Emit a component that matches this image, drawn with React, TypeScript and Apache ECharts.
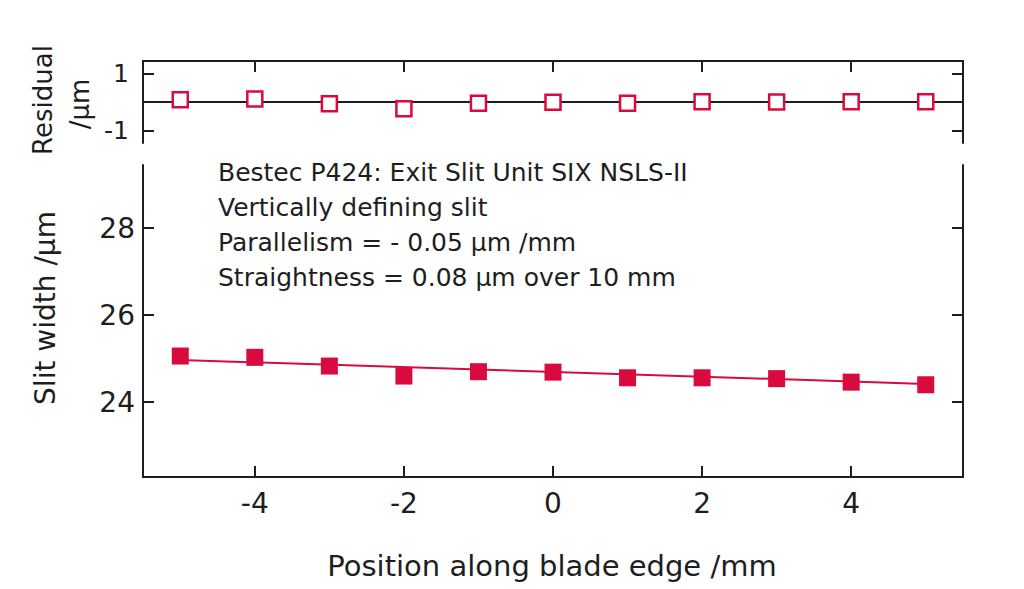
import React, { useEffect, useRef } from "react";
import * as echarts from "echarts";

const positions = [-5, -4, -3, -2, -1, 0, 1, 2, 3, 4, 5];
const slitWidth = [25.06, 25.03, 24.83, 24.6, 24.7, 24.69, 24.56, 24.56, 24.54, 24.46, 24.4];
const residuals = [0.08, 0.11, -0.06, -0.24, -0.04, -0.01, -0.04, 0.01, 0, 0.01, 0.01];
const fitX = [-5, 5];
const fitY = [24.97, 24.42];
const xTicks = [-4, -2, 0, 2, 4];
const slitTicks = [24, 26, 28];
const residualTicks = [-1, 1];
const annotation = [
  "Bestec P424: Exit Slit Unit SIX NSLS-II",
  "Vertically defining slit",
  "Parallelism = - 0.05 µm /mm",
  "Straightness = 0.08 µm over 10 mm",
];

const RED = "#d80a3e";
const INK = "#1e1e1e";
const FONT = "DejaVu Sans";

export default function App() {
  const ref = useRef<HTMLDivElement>(null);
  useEffect(() => {
    if (!ref.current) return;
    const chart = echarts.init(ref.current, undefined, { renderer: "svg" });
    const axisLine = { show: true, onZero: false, lineStyle: { color: INK, width: 2 } };
    const tick = (vals: number[]) => ({
      show: true,
      inside: true,
      length: 11,
      customValues: vals,
      lineStyle: { color: INK, width: 2 },
    });
    const label = (vals: number[], size: number, margin: number) => ({
      show: true,
      customValues: vals,
      color: INK,
      fontFamily: FONT,
      fontSize: size,
      margin,
    });
    chart.setOption({
      animation: false,
      backgroundColor: "#ffffff",
      grid: [
        { left: 143, right: 61, top: 61, height: 82 },
        { left: 143, right: 61, top: 165, height: 312 },
      ],
      xAxis: [
        {
          gridIndex: 0,
          type: "value",
          min: -5.5,
          max: 5.5,
          position: "top",
          axisLine,
          axisTick: tick(xTicks),
          axisLabel: { show: false },
          splitLine: { show: false },
        },
        {
          gridIndex: 1,
          type: "value",
          min: -5.5,
          max: 5.5,
          position: "bottom",
          axisLine,
          axisTick: tick(xTicks),
          axisLabel: label(xTicks, 28, 12),
          splitLine: { show: false },
        },
      ],
      yAxis: [
        {
          gridIndex: 0,
          type: "value",
          min: -1.45,
          max: 1.45,
          position: "left",
          axisLine,
          axisTick: tick(residualTicks),
          axisLabel: label(residualTicks, 25, 14),
          splitLine: { show: false },
        },
        {
          gridIndex: 0,
          type: "value",
          min: -1.45,
          max: 1.45,
          position: "right",
          axisLine,
          axisTick: tick(residualTicks),
          axisLabel: { show: false },
          splitLine: { show: false },
        },
        {
          gridIndex: 1,
          type: "value",
          min: 22.28,
          max: 29.45,
          position: "left",
          axisLine,
          axisTick: tick(slitTicks),
          axisLabel: label(slitTicks, 28, 8),
          splitLine: { show: false },
        },
        {
          gridIndex: 1,
          type: "value",
          min: 22.28,
          max: 29.45,
          position: "right",
          axisLine,
          axisTick: tick(slitTicks),
          axisLabel: { show: false },
          splitLine: { show: false },
        },
      ],
      series: [
        {
          type: "scatter",
          xAxisIndex: 0,
          yAxisIndex: 0,
          data: positions.map((x, i) => [x, residuals[i]]),
          symbol: "rect",
          symbolSize: 15,
          itemStyle: { color: "#ffffff", borderColor: RED, borderWidth: 2.5, opacity: 1 },
          z: 5,
          markLine: {
            silent: true,
            symbol: "none",
            label: { show: false },
            lineStyle: { color: INK, width: 2, type: "solid" },
            data: [{ yAxis: 0 }],
            z: 1,
          },
        },
        {
          type: "line",
          xAxisIndex: 1,
          yAxisIndex: 2,
          data: fitX.map((x, i) => [x, fitY[i]]),
          showSymbol: false,
          symbol: "none",
          lineStyle: { color: RED, width: 2 },
          z: 2,
        },
        {
          type: "scatter",
          xAxisIndex: 1,
          yAxisIndex: 2,
          data: positions.map((x, i) => [x, slitWidth[i]]),
          symbol: "rect",
          symbolSize: 17,
          itemStyle: { color: RED, opacity: 1 },
          z: 5,
        },
      ],
      graphic: [
        {
          type: "text",
          x: 43,
          y: 100,
          rotation: Math.PI / 2,
          style: {
            text: "Residual",
            fill: INK,
            font: `26px '${FONT}'`,
            align: "center",
            verticalAlign: "middle",
          },
        },
        {
          type: "text",
          x: 80,
          y: 104,
          rotation: Math.PI / 2,
          style: {
            text: "/µm",
            fill: INK,
            font: `26px '${FONT}'`,
            align: "center",
            verticalAlign: "middle",
          },
        },
        {
          type: "text",
          x: 45,
          y: 308,
          rotation: Math.PI / 2,
          style: {
            text: "Slit width /µm",
            fill: INK,
            font: `28px '${FONT}'`,
            align: "center",
            verticalAlign: "middle",
          },
        },
        {
          type: "text",
          x: 552,
          y: 566,
          style: {
            text: "Position along blade edge /mm",
            fill: INK,
            font: `29px '${FONT}'`,
            align: "center",
            verticalAlign: "middle",
          },
        },
        ...annotation.map((t, i) => ({
          type: "text",
          x: 218,
          y: 172 + i * 35,
          style: {
            text: t,
            fill: INK,
            font: `25px '${FONT}'`,
            align: "left",
            verticalAlign: "middle",
          },
        })),
      ],
    });
    return () => chart.dispose();
  }, []);
  return (
    <div
      ref={ref}
      style={{ position: "fixed", left: 0, top: 0, width: 1024, height: 589, background: "#fff" }}
    />
  );
}
